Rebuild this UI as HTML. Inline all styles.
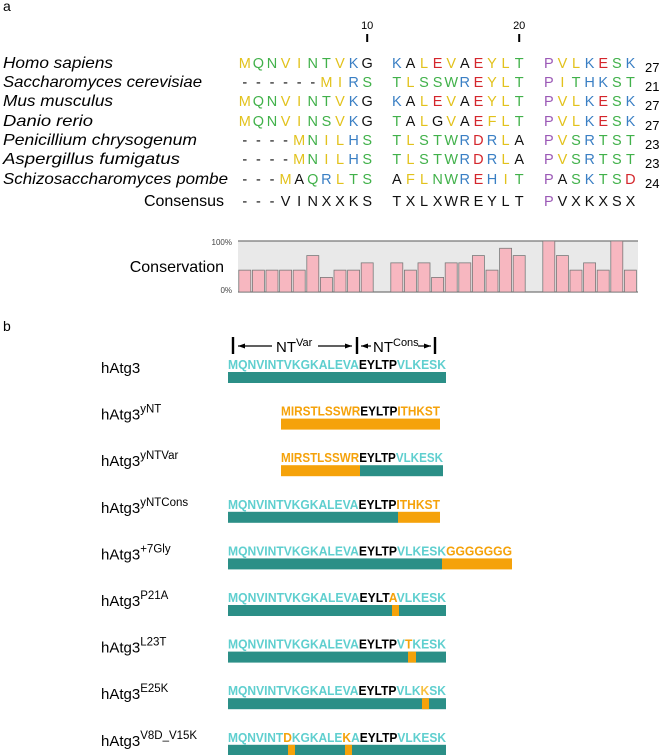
<!DOCTYPE html>
<html><head><meta charset="utf-8"><style>
html,body{margin:0;padding:0;background:#fff}
svg{display:block;font-family:"Liberation Sans",sans-serif}
</style></head><body>
<svg id="fig" width="666" height="755" viewBox="0 0 666 755" xmlns="http://www.w3.org/2000/svg">
<text x="3" y="11" font-size="14">a</text>
<text x="3" y="331" font-size="14">b</text>
<g id="align"></g>
<g id="cons"></g>
<g id="panelb"></g>
</svg>
<script>
const NS='http://www.w3.org/2000/svg';
const species=['Homo sapiens','Saccharomyces cerevisiae','Mus musculus','Danio rerio','Penicillium chrysogenum','Aspergillus fumigatus','Schizosaccharomyces pombe'];
const speciesWidths=[110,199,110,90,194,177,225];
const seqs=['MQNVINTVKGKALEVAEYLTPVLKESK','------MIRSTLSSWREYLTPITHKST','MQNVINTVKGKALEVAEYLTPVLKESK','MQNVINSVKGTALGVAEFLTPVLKESK','----MNILHSTLSTWRDRLAPVSRTST','----MNILHSTLSTWRDRLAPVSRTST','---MAQRLTSAFLNWREHITPASKTSD'];
const seqLengths=['27','21','27','27','23','23','24'];
const consensus='---VINXXKSTXLXWREYLTPVXKXSX';
const conservation=[3,3,3,3,3,5,2,3,3,4, 4,3,4,2,4,4,5,3,6,5, 7,5,3,4,3,7,3];
const nSeq=7;
const col={M:'#e2c21c',V:'#e2c21c',I:'#e2c21c',L:'#e2c21c',F:'#e2c21c',Y:'#e2c21c',N:'#41b14a',Q:'#41b14a',S:'#41b14a',T:'#41b14a',W:'#41b14a',K:'#3a7fc4',R:'#3a7fc4',H:'#3a7fc4',D:'#d4262c',E:'#d4262c',P:'#9b59b6'};
const pitch=13.6;
function cellX(i){const g=Math.floor(i/10);return 238+g*152+(i%10)*pitch;}
function mk(tag,attrs,parent,txt){const e=document.createElementNS(NS,tag);for(const k in attrs)e.setAttribute(k,attrs[k]);if(txt!==undefined)e.textContent=txt;parent.appendChild(e);return e;}
const A=document.getElementById('align');
[[9,'10'],[19,'20']].forEach(([i,l])=>{
 const t=mk('text',{x:cellX(i)+6.8,y:29,'font-size':11,'text-anchor':'middle'},A,l);
 
 
 const ln=mk('line',{x1:cellX(i)+6.8,x2:cellX(i)+6.8,y1:34,y2:42,stroke:'#000','stroke-width':2},A);
 
 
});
const rowY=[68,87,106,126,145,164,184];
species.forEach((s,r)=>{
 const t=mk('text',{x:3,y:rowY[r],'font-size':16,'font-style':'italic',textLength:speciesWidths[r],lengthAdjust:'spacingAndGlyphs'},A,s);
 
 
 const seq=seqs[r];
 for(let i=0;i<seq.length;i++){
  const c=seq[i];
  const lt=mk('text',{x:cellX(i)+6.8,y:rowY[r],'font-size':14.5,'text-anchor':'middle',fill:col[c]||'#111'},A,c);
  
  
 }
 const n=mk('text',{x:645,y:rowY[r]+4,'font-size':13},A,seqLengths[r]);
 
 
});
let ct=mk('text',{x:224,y:206,'font-size':16,'text-anchor':'end'},A,'Consensus');


for(let i=0;i<consensus.length;i++){
 const c=consensus[i];
 const lt=mk('text',{x:cellX(i)+6.8,y:206,'font-size':14.5,'text-anchor':'middle',fill:c==='P'?'#9b59b6':'#111'},A,c);
 
 
}
const C=document.getElementById('cons');
const y0=292,y1=241;
function yScale(v){return y0-(v/nSeq)*(y0-y1);}
let bg=mk('rect',{x:238,y:y1,width:400,height:y0-y1,fill:'#e9e9e9'},C);


mk('line',{x1:238,x2:638,y1:y1,y2:y1,stroke:'#777','stroke-width':1.2},C);
mk('line',{x1:238,x2:638,y1:y0,y2:y0,stroke:'#777','stroke-width':1.2},C);
conservation.forEach((v,i)=>{
 const b=mk('rect',{x:cellX(i)+0.8,y:yScale(v),width:12,height:y0-yScale(v),fill:'#f7b7c0',stroke:'#7a7a7a','stroke-width':0.8},C);
 
 
});
let cl=mk('text',{x:224,y:272,'font-size':16,'text-anchor':'end'},C,'Conservation');


let t100=mk('text',{x:232,y:245,'font-size':8,'text-anchor':'end',fill:'#444'},C,'100%');


let t0=mk('text',{x:232,y:293,'font-size':8,'text-anchor':'end',fill:'#444'},C,'0%');


const B=document.getElementById('panelb');
const TE='#5fcfcf',TB='#2b8f87',OR='#f5a20a';
[233,357,435].forEach(x=>mk('line',{x1:x,x2:x,y1:337,y2:354,stroke:'#000','stroke-width':2.4},B));
function arrow(x1,x2,y){mk('line',{x1:x1,x2:x2,y1:y,y2:y,stroke:'#000','stroke-width':1.2},B);const d=x2>x1?-1:1;mk('polygon',{points:`${x2},${y} ${x2+d*7},${y-2.5} ${x2+d*7},${y+2.5}`,fill:'#000'},B);}
arrow(272,238,346);arrow(318,352,346);arrow(371,361,346);arrow(418,431,346);
let nv=mk('text',{x:276,y:352,'font-size':15},B);


mk('tspan',{},nv,'NT');mk('tspan',{dy:-6,'font-size':11},nv,'Var');
let nc=mk('text',{x:373,y:352,'font-size':15},B);


mk('tspan',{},nc,'NT');mk('tspan',{dy:-6,'font-size':11},nc,'Cons');
const rows=[
 {sup:'',x:228,w:218,segs:[['MQNVINTVKGKALEVA',TE],['EYLTP','#000'],['VLKESK',TE]],bars:[[228,446,TB]]},
 {sup:'yNT',x:281,w:159,segs:[['MIRSTLSSWR',OR],['EYLTP','#000'],['ITHKST',OR]],bars:[[281,440,OR]]},
 {sup:'yNTVar',x:281,w:162,segs:[['MIRSTLSSWR',OR],['EYLTP','#000'],['VLKESK',TE]],bars:[[281,360,OR],[360,443,TB]]},
 {sup:'yNTCons',x:228,w:212,segs:[['MQNVINTVKGKALEVA',TE],['EYLTP','#000'],['ITHKST',OR]],bars:[[228,398,TB],[398,440,OR]]},
 {sup:'+7Gly',x:228,w:284,segs:[['MQNVINTVKGKALEVA',TE],['EYLTP','#000'],['VLKESK',TE],['GGGGGGG',OR]],bars:[[228,442,TB],[442,512,OR]]},
 {sup:'P21A',x:228,w:218,segs:[['MQNVINTVKGKALEVA',TE],['EYLT','#000'],['A',OR],['VLKESK',TE]],bars:[[228,446,TB],[392,399,OR]]},
 {sup:'L23T',x:228,w:218,segs:[['MQNVINTVKGKALEVA',TE],['EYLTP','#000'],['V',TE],['T',OR],['KESK',TE]],bars:[[228,446,TB],[408,416,OR]]},
 {sup:'E25K',x:228,w:218,segs:[['MQNVINTVKGKALEVA',TE],['EYLTP','#000'],['VLK',TE],['K','#f7c040'],['SK',TE]],bars:[[228,446,TB],[422,429,OR]]},
 {sup:'V8D_V15K',x:228,w:218,segs:[['MQNVINT',TE],['D',OR],['KGKALE',TE],['K',OR],['A',TE],['EYLTP','#000'],['VLKESK',TE]],bars:[[228,446,TB],[288,295,OR],[345,352,OR]]}
];
rows.forEach((r,k)=>{
 const by=372+k*46.6;
 const lab=mk('text',{x:101,y:by+1,'font-size':15},B);
 
 
 mk('tspan',{},lab,'hAtg3');
 if(r.sup)mk('tspan',{dy:-7,'font-size':11.5},lab,r.sup);
 const st=mk('text',{x:r.x,y:by-3,'font-size':13,'font-weight':'bold',textLength:r.w,lengthAdjust:'spacingAndGlyphs'},B);
 
 
 r.segs.forEach(([s,c])=>mk('tspan',{fill:c},st,s));
 r.bars.forEach(([a,b,c])=>{
  const rc=mk('rect',{x:a,y:by,width:b-a,height:11,fill:c},B);
  
  
 });
});
</script>
</body></html>
